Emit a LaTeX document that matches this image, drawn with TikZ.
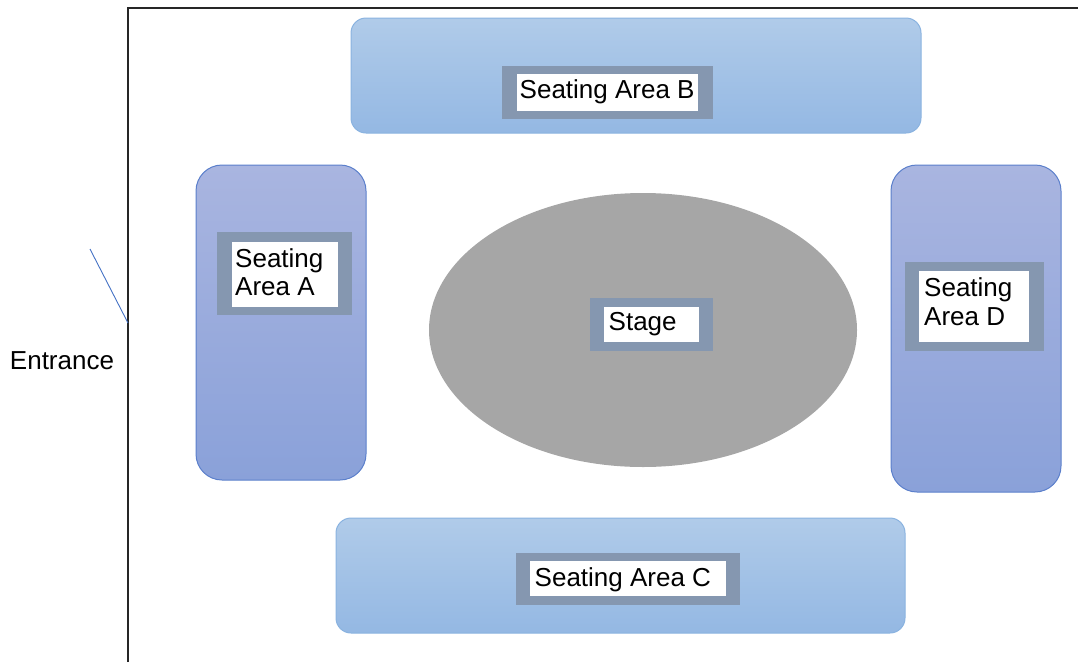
\documentclass[tikz,border=0pt]{standalone}
\usepackage{fontspec}
\setmainfont{Liberation Sans}
\usetikzlibrary{shapes.geometric}
\definecolor{hTop}{HTML}{B0CBE9}
\definecolor{hBot}{HTML}{94B8E3}
\definecolor{hLine}{HTML}{8AB3E0}
\definecolor{vTop}{HTML}{A9B5E0}
\definecolor{vBot}{HTML}{8AA1D9}
\definecolor{vLine}{HTML}{5B7FCB}
\definecolor{lframe}{HTML}{8597B0}
\definecolor{stagegray}{HTML}{A6A6A6}
\definecolor{entblue}{HTML}{4472C4}
\tikzset{
  seatH/.style={rectangle, rounded corners=15pt, top color=hTop, bottom color=hBot, draw=hLine, line width=1pt, inner sep=0pt},
  seatV/.style={rectangle, rounded corners=26pt, top color=vTop, bottom color=vBot, draw=vLine, line width=1pt, inner sep=0pt},
  labframe/.style={rectangle, fill=lframe, inner sep=0pt},
  labwhite/.style={rectangle, fill=white, inner sep=0pt},
  labtext/.style={anchor=base west, inner sep=0pt, font=\fontsize{26}{29}\selectfont, text=black},
  plain/.style={font=\fontsize{26}{29}\selectfont, text=black, inner sep=0pt}
}
\begin{document}
\begin{tikzpicture}[x=1pt, y=-1pt]
\useasboundingbox (0,0) rectangle (1078,662);
% frame
\coordinate (fbl) at (128,662);
\coordinate (ftl) at (128,8);
\coordinate (ftr) at (1078,8);
\draw[line width=2pt, black!85] (fbl) -- (ftl) -- (ftr);
% entrance
\coordinate (e1) at (90,249);
\coordinate (e2) at (128,323);
\draw[entblue, line width=0.9pt] (e1) -- (e2);
\node[plain] (ent) at (62,361) {Entrance};
% seating B
\node[seatH, minimum width=570pt, minimum height=115pt] (B) at (636,75.5) {};
\node[labframe, minimum width=211pt, minimum height=53pt] (Bf) at (607.5,92.5) {};
\node[labwhite, minimum width=181pt, minimum height=37pt] (Bw) at (607.5,92) {};
\node[labtext] (Bt) at (519.5,98.5) {Seating Area B};
% seating C
\node[seatH, minimum width=569pt, minimum height=115pt] (C) at (620.5,575.5) {};
\node[labframe, minimum width=224pt, minimum height=52pt] (Cf) at (628,579) {};
\node[labwhite, minimum width=196pt, minimum height=35pt] (Cw) at (628,578.5) {};
\node[labtext] (Ct) at (534.5,586.5) {Seating Area C};
% seating A
\node[seatV, minimum width=170pt, minimum height=315pt] (A) at (281,322.5) {};
\node[labframe, minimum width=135pt, minimum height=83pt] (Af) at (284.5,273.5) {};
\node[labwhite, minimum width=106pt, minimum height=65pt] (Aw) at (285,274.5) {};
\node[labtext] (At1) at (235,267) {Seating};
\node[labtext] (At2) at (235,295.5) {Area A};
% seating D
\node[seatV, minimum width=170pt, minimum height=327pt] (D) at (976,328.5) {};
\node[labframe, minimum width=139pt, minimum height=89pt] (Df) at (974.5,306.5) {};
\node[labwhite, minimum width=110pt, minimum height=71pt] (Dw) at (974,306.5) {};
\node[labtext] (Dt1) at (924,296) {Seating};
\node[labtext] (Dt2) at (924,325) {Area D};
% stage
\node[ellipse, fill=stagegray, minimum width=428pt, minimum height=274pt, inner sep=0pt] (stage) at (643,330) {};
\node[labframe, minimum width=123pt, minimum height=53pt] (Sf) at (651.5,324.5) {};
\node[labwhite, minimum width=95pt, minimum height=35pt] (Sw) at (651.5,324.5) {};
\node[labtext] (St) at (608.5,330.5) {Stage};
\end{tikzpicture}
\end{document}
